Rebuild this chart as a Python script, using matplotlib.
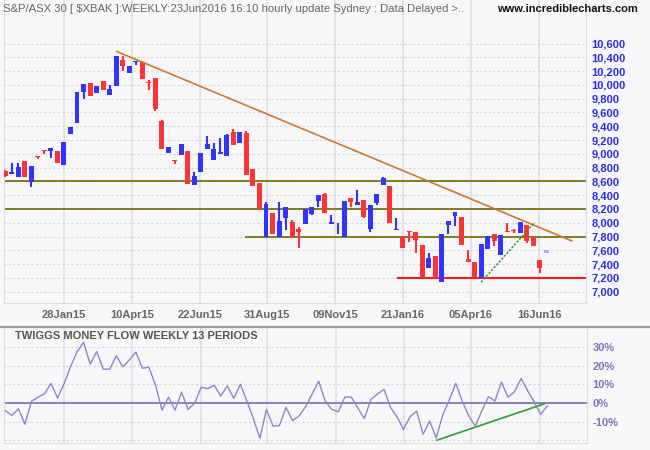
import numpy as np
import matplotlib; matplotlib.use("Agg")
import matplotlib.pyplot as plt
from matplotlib.lines import Line2D

plt.rcParams["font.family"] = ["Liberation Sans", "DejaVu Sans"]

# weekly candles (index = week)
opens = [8754, 8711, 8657, 8899, 8585, 8971, 9058, 9034, 9043, 8831,
         9294, 9453, 9901, 10026, 9887, 10055, 9858, 9988, 10359, 10176,
         10330, 10330, 10046, 10099, 9477, 9005, 8913, 8976, 9043, 8542,
         8730, 9072, 8903, 9000, 8961, 9318, 9164, 9303, 8783, 8576,
         7797, 8146, 7797, 8074, 8017, 7916, 7979, 8132, 8318, 8423,
         7988, 7888, 7797, 8356, 8256, 8332, 7916, 8285, 8552, 8538,
         7893, 7810, 7882, 7872, 7679, 7350, 7519, 7146, 7974, 8105,
         8085, 7475, 7432, 7195, 7621, 7838, 7538, 7882, 7896, 7848,
         7964, 7785, 7461]
closes = [8672, 8735, 8812, 8657, 8826, 8956, 9038, 9087, 8860, 9173,
          9390, 9896, 10012, 9843, 9983, 9930, 9940, 10417, 10277, 10272,
          10345, 10089, 10031, 9655, 9077, 9101, 8889, 9144, 8556, 8682,
          9014, 9144, 9072, 9019, 9275, 9130, 9318, 8686, 8527, 8198,
          8275, 7835, 8031, 8232, 7797, 7873, 8198, 8232, 8399, 8146,
          8007, 7902, 8318, 8308, 8294, 8089, 8261, 8423, 8648, 7993,
          7907, 7640, 7863, 7746, 7195, 7485, 7180, 7838, 8027, 8158,
          7683, 7427, 7195, 7693, 7809, 7732, 7824, 7863, 7882, 8013,
          7742, 7669, 7340]
highs = [8760, 8870, 8870, 8899, 8826, 8971, 9058, 9087, 9043, 9173,
         9390, 9896, 10012, 10026, 9983, 10055, 9998, 10417, 10417, 10272,
         10345, 10345, 10075, 10099, 9491, 9101, 8913, 9144, 9043, 8730,
         9014, 9260, 9159, 9231, 9289, 9361, 9318, 9332, 8783, 8576,
         8294, 8146, 8294, 8232, 8041, 7940, 8198, 8232, 8409, 8437,
         8117, 8002, 8318, 8356, 8476, 8332, 8261, 8423, 8667, 8538,
         8074, 7810, 7882, 7872, 7679, 7558, 7519, 7838, 8027, 8158,
         8085, 7606, 7432, 7693, 7809, 7838, 7824, 8003, 7911, 8013,
         7964, 7814, 7461]
lows = [8665, 8705, 8657, 8657, 8513, 8918, 9000, 8932, 8860, 8831,
        9294, 9453, 9800, 9843, 9887, 9930, 9858, 9988, 10205, 10176,
        10292, 10089, 9925, 9626, 9077, 9005, 8846, 8976, 8556, 8542,
        8730, 9072, 8903, 9000, 8961, 9130, 9164, 8686, 8527, 8198,
        7797, 7835, 7797, 7902, 7797, 7630, 7979, 8108, 8222, 8146,
        7988, 7835, 7797, 8232, 8256, 8074, 7859, 8261, 8552, 7993,
        7893, 7640, 7727, 7567, 7195, 7350, 7180, 7146, 7838, 7955,
        7683, 7427, 7195, 7195, 7621, 7669, 7538, 7863, 7858, 7848,
        7713, 7669, 7277]
# current (unfinished) week marker
live_lo, live_hi = 7558, 7610

# Twiggs money flow, % (one point more than candles)
tmf = [-4.1, -6.7, -3.1, -11.4, 0.9, 3.1, 4.9, 10.6, 2.7, 10.3,
       19.6, 27.7, 32.6, 20.9, 27.7, 18.2, 18.2, 25.4, 19.5, 23.2,
       27.4, 18.7, 19.3, 9.7, -3.8, 3.1, -3.8, 5.8, -3.4, -0.2,
       8.5, 7.7, 9.5, 3.8, 9.2, 2.5, 10.1, 1.1, -8.5, -18.9,
       -3.4, -12.4, -12.1, -2.3, -9.5, -7.0, -2.0, 4.9, 11.7, 1.1,
       -3.4, -4.7, 3.2, 3.2, -2.7, -8.3, 2.0, 4.8, 7.4, -2.3,
       -7.4, -14.1, -7.4, -4.3, -16.8, -9.7, -18.7, -6.5, 1.6, 10.6,
       0.9, -7.0, -12.4, -4.1, 3.4, 1.1, 11.2, 3.1, 6.1, 13.2,
       6.7, 0.7, -6.1, -1.6]

date_pos = [9.0, 19.4, 29.9, 40.1, 50.6, 61.0, 71.4, 81.9]
date_lbl = ["28Jan15", "10Apr15", "22Jun15", "31Aug15", "09Nov15", "21Jan16", "05Apr16", "16Jun16"]
price_ticks = list(range(7000, 10601, 200))
tmf_ticks = [-10, 0, 10, 20, 30]

# annotations drawn on the chart: (x0, y0, x1, y1)
down_trend = (17.1, 10484, 86.9, 7737)
up_trend = (73.0, 7137, 81.1, 7993)
tmf_trend = (66.1, -20.0, 82.5, -0.5)
support_lines = [(8600, -1, 95), (8200, -1, 95), (7800, 36.9, 95)]
floor_line = (7200, 60.2, 95)

BG = "#f7f7fa"
BLUE = "#3333ff"
RED = "#ff3333"
W, H = 650, 450

fig = plt.figure(figsize=(6.5, 4.5), dpi=100, facecolor=BG)
ax1 = fig.add_axes([4/W, 1-303/H, 582/W, 303/H], facecolor=BG)
ax2 = fig.add_axes([4/W, 1-443/H, 583/W, 116/H], facecolor=BG)

for ax in (ax1, ax2):
    ax.set_xlim(-0.2, 89.1)
    ax.set_xticks(date_pos)
    ax.grid(axis="x", color="#e0e0e6", lw=1.3, ls="-")
    ax.grid(axis="y", color="#d6d6da", lw=0.8, ls=(0, (2, 2)))
    ax.set_axisbelow(True)
    ax.yaxis.tick_right()
    ax.tick_params(length=0)
    ax.spines["top"].set_visible(False)
    for s in ("left", "right", "bottom"):
        ax.spines[s].set_color("#dcdce0")

# price panel
x = np.arange(len(opens))
o = np.array(opens); c = np.array(closes)
cols = np.where(c >= o, BLUE, RED)
ax1.vlines(x, lows, highs, colors=cols, lw=1.5, zorder=3)
ax1.bar(x, np.maximum(np.abs(c - o), 14), bottom=np.minimum(o, c), width=0.76,
        color=cols, zorder=4, linewidth=0)
ax1.bar([len(opens)], [live_hi - live_lo], bottom=[live_lo], width=0.78,
        color="#a8aef2", zorder=4, linewidth=0)

for lvl, a, b in support_lines:
    ax1.plot([a, b], [lvl, lvl], color="#7d7d22", lw=1.4, zorder=2)
ax1.plot([floor_line[1], floor_line[2]], [floor_line[0]] * 2, color="#ff1a1a", lw=1.5, zorder=2)
ax1.plot(down_trend[::2], down_trend[1::2], color="#c97a2e", lw=1.2, zorder=5)
ax1.plot(up_trend[::2], up_trend[1::2], color="#2e9a2e", lw=1.1, ls=(0, (1.5, 1)), zorder=5)

ax1.set_ylim(6836, 11231)
ax1.set_yticks(price_ticks)
ax1.set_yticklabels([f"{v:,}" for v in price_ticks], color="#2b2bf0",
                    fontweight="bold", fontsize=8)
ax1.set_xticklabels(date_lbl, color="#666666", fontweight="bold", fontsize=8)
ax1.tick_params(axis="y", pad=4)
ax1.tick_params(axis="x", pad=5)

# money flow panel
ax2.plot(np.arange(len(tmf)), tmf, color="#8888cc", lw=1.0, zorder=3)
ax2.axhline(0, color="#7272b0", lw=1.2, zorder=2)
ax2.axhline(-20, color="#d6d6da", lw=0.8, ls=(0, (2, 2)), zorder=1)
ax2.plot(tmf_trend[::2], tmf_trend[1::2], color="#2ea02e", lw=1.2, zorder=4)
ax2.set_ylim(-21.5, 40.9)
ax2.set_yticks(tmf_ticks)
ax2.set_yticklabels([f"{v}%" for v in tmf_ticks], color="#7777bb",
                    fontweight="bold", fontsize=8)
ax2.set_xticklabels([])
ax2.tick_params(axis="y", pad=4)

fig.add_artist(Line2D([0, 1], [1-327/H]*2, color="#9a9a9a", lw=1.6,
                      transform=fig.transFigure))
fig.text(3/W, 1-9/H, r"S&P/ASX 30 [ \$XBAK ]:WEEKLY:23Jun2016 16:10 hourly update Sydney : Data Delayed >..",
         color="#666666", fontsize=8.1, va="center")
fig.text(497/W, 1-9/H, "www.incrediblecharts.com", color="#111111",
         fontsize=8, fontweight="bold", va="center")
fig.text(15/W, 1-336/H, "TWIGGS MONEY FLOW WEEKLY 13 PERIODS", color="#555555",
         fontsize=8, fontweight="bold", va="center")

fig.savefig("out.png", dpi=100, facecolor=BG)
